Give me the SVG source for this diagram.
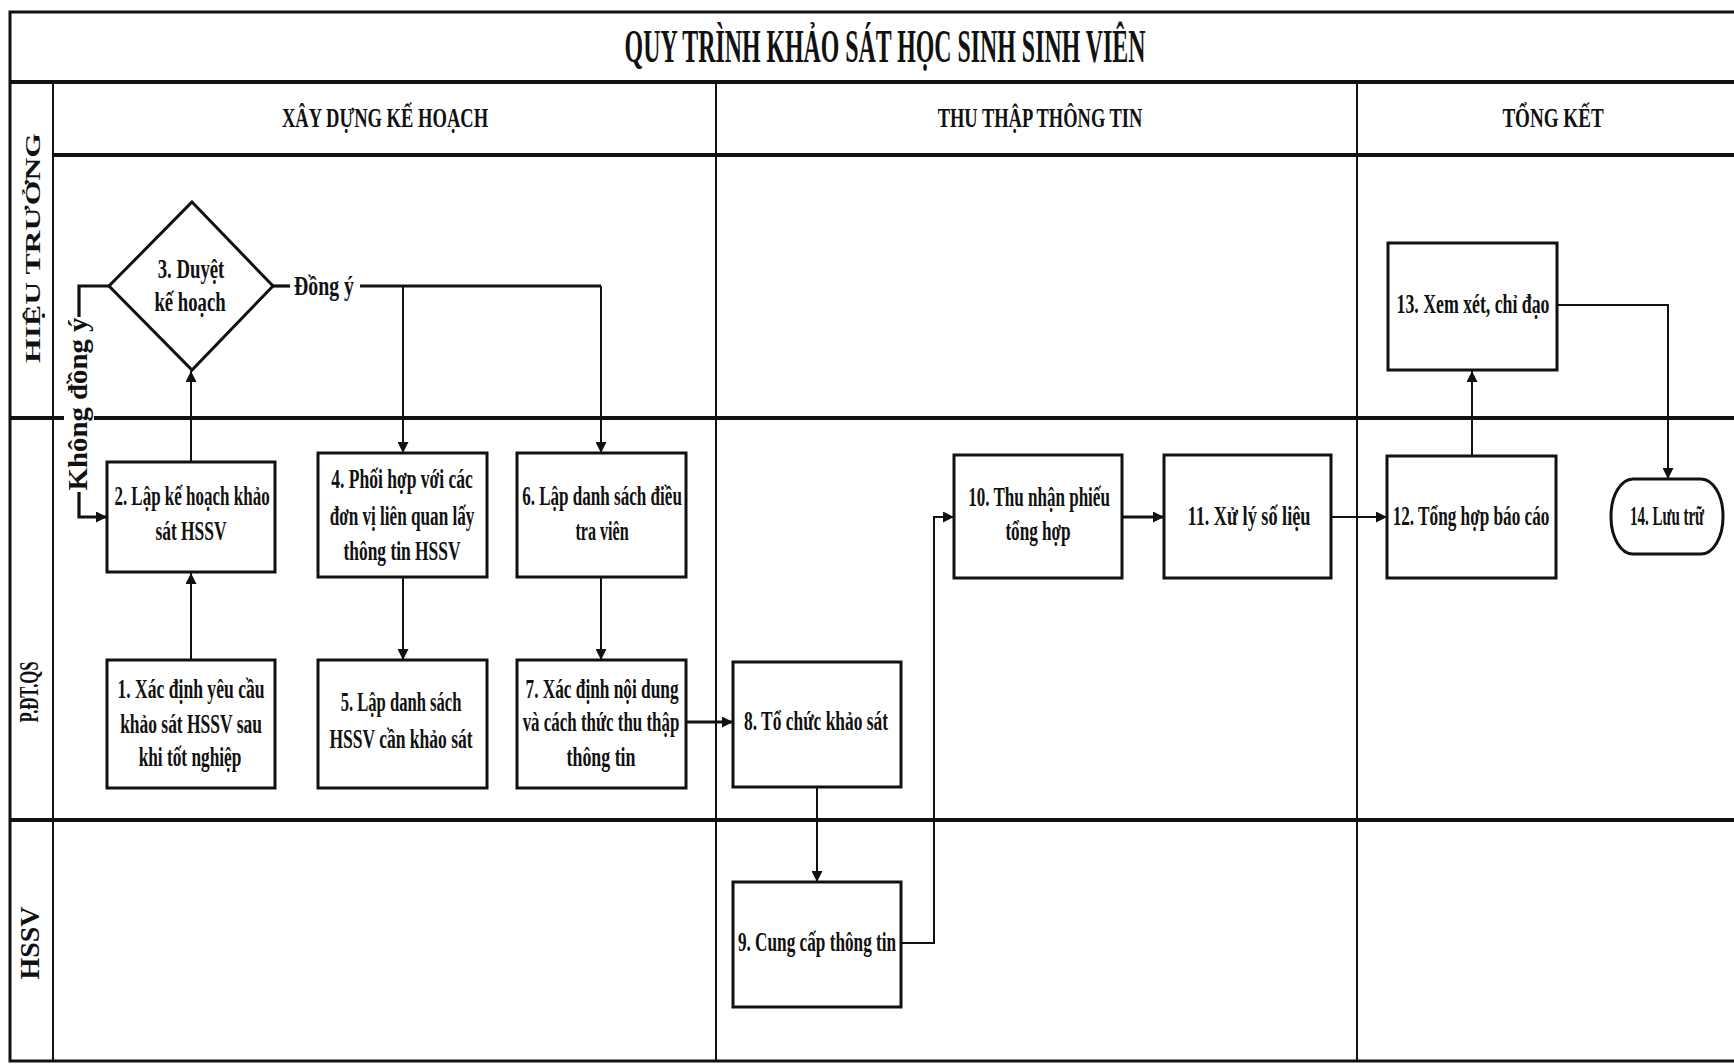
<svg xmlns="http://www.w3.org/2000/svg" width="1734" height="1064" viewBox="0 0 1734 1064">
<style>
.frame{fill:none;stroke:#111;stroke-width:3}
.thick{stroke:#111;stroke-width:4;fill:none}
.thin{stroke:#111;stroke-width:2;fill:none}
.box{fill:#fff;stroke:#111;stroke-width:3}
.conn{stroke:#111;stroke-width:2;fill:none}
.conn3{stroke:#111;stroke-width:3.2;fill:none}
.t{font-family:"Liberation Serif","Times New Roman",serif;font-weight:bold;font-size:27px;fill:#111;text-anchor:middle}
.title{font-size:46px}
.hdr{font-size:27px}
.lane{font-size:22px}
</style>
<defs>
<marker id="ah" viewBox="0 0 10 10" refX="10" refY="5" markerWidth="11" markerHeight="11" markerUnits="userSpaceOnUse" orient="auto">
<path d="M0,0 L10,5 L0,10 z" fill="#111"/>
</marker>
</defs>
<rect width="1734" height="1064" fill="#fff"/>
<g id="frame">
<path class="frame" d="M1734 12 H10 V1061 H1734"/>
<path class="thick" d="M10 82 H1734"/>
<path class="thick" d="M53 155 H1734"/>
<path class="thin" d="M53 82 V1061"/>
<path class="thin" d="M716 82 V1061"/>
<path class="thin" d="M1357 82 V1061"/>
<path class="thick" d="M10 418 H1734" stroke-width="3.5"/>
<path class="thick" d="M10 820 H1734"/>
<text class="t title" transform="translate(885,62) scale(0.6,1)" textLength="868" lengthAdjust="spacingAndGlyphs">QUY TRÌNH KHẢO SÁT HỌC SINH SINH VIÊN</text>
<text class="t hdr" transform="translate(385,127) scale(0.75,1)" textLength="275" lengthAdjust="spacingAndGlyphs">XÂY DỰNG KẾ HOẠCH</text>
<text class="t hdr" transform="translate(1040,127) scale(0.75,1)" textLength="273" lengthAdjust="spacingAndGlyphs">THU THẬP THÔNG TIN</text>
<text class="t hdr" transform="translate(1553,127) scale(0.75,1)" textLength="135" lengthAdjust="spacingAndGlyphs">TỔNG KẾT</text>
<text class="t lane" transform="translate(40,248) rotate(-90)" textLength="230" lengthAdjust="spacingAndGlyphs">HIỆU TRƯỞNG</text>
<text class="t" font-size="17" transform="translate(38,692) rotate(-90)" textLength="61" lengthAdjust="spacingAndGlyphs">P.ĐT.QS</text>
<text class="t" font-size="19" transform="translate(39,943) rotate(-90)" textLength="73" lengthAdjust="spacingAndGlyphs">HSSV</text>
</g>
<g id="connectors">
<path class="conn" d="M191 660 V573" marker-end="url(#ah)"/>
<path class="conn" d="M191 462 V371" marker-end="url(#ah)"/>
<path class="conn3" d="M273 286 H290"/>
<path class="conn3" d="M360 286 H601"/>
<path class="conn" d="M403 286 V453" marker-end="url(#ah)"/>
<path class="conn" d="M601 286 V453" marker-end="url(#ah)"/>
<path class="conn3" d="M109 286 H79 V517 H107" marker-end="url(#ah)"/>
<path class="conn" d="M403 577 V660" marker-end="url(#ah)"/>
<path class="conn" d="M601 577 V660" marker-end="url(#ah)"/>
<path class="conn3" d="M686 722 H733" marker-end="url(#ah)"/>
<path class="conn" d="M817 787 V882" marker-end="url(#ah)"/>
<path class="conn" d="M901 943 H934 V517 H954" marker-end="url(#ah)"/>
<path class="conn3" d="M1122 517 H1164" marker-end="url(#ah)"/>
<path class="conn" d="M1331 517 H1387" marker-end="url(#ah)"/>
<path class="conn" d="M1472 456 V371" marker-end="url(#ah)"/>
<path class="conn" d="M1557 305 H1668 V479" marker-end="url(#ah)"/>
<text class="t" transform="translate(324,295) scale(0.75,1)" textLength="80" lengthAdjust="spacingAndGlyphs">Đồng ý</text>
<rect x="64" y="317" width="30" height="175" fill="#fff"/>
<text class="t" font-weight="normal" transform="translate(87,404) rotate(-90) scale(0.8,1)" textLength="216" lengthAdjust="spacingAndGlyphs">Không đồng ý</text>
</g>
<g id="n1">
<rect class="box" x="107" y="660" width="168" height="128"/>
<text class="t" transform="translate(191,698) scale(0.75,1)" textLength="196" lengthAdjust="spacingAndGlyphs">1. Xác định yêu cầu</text>
<text class="t" transform="translate(191,733) scale(0.75,1)" textLength="189" lengthAdjust="spacingAndGlyphs">khảo sát HSSV sau</text>
<text class="t" transform="translate(190,766) scale(0.75,1)" textLength="137" lengthAdjust="spacingAndGlyphs">khi tốt nghiệp</text>
</g>
<g id="n2">
<rect class="box" x="107" y="462" width="168" height="110"/>
<text class="t" transform="translate(192,505) scale(0.75,1)" textLength="207" lengthAdjust="spacingAndGlyphs">2. Lập kế hoạch khảo</text>
<text class="t" transform="translate(191,540) scale(0.75,1)" textLength="95" lengthAdjust="spacingAndGlyphs">sát HSSV</text>
</g>
<g id="n3">
<path class="box" d="M192 202 L273 286 L192 370 L109 286 Z"/>
<text class="t" transform="translate(191,278) scale(0.75,1)" textLength="89" lengthAdjust="spacingAndGlyphs">3. Duyệt</text>
<text class="t" transform="translate(190,311) scale(0.75,1)" textLength="95" lengthAdjust="spacingAndGlyphs">kế hoạch</text>
</g>
<g id="n4">
<rect class="box" x="318" y="453" width="169" height="124"/>
<text class="t" transform="translate(402,488) scale(0.75,1)" textLength="189" lengthAdjust="spacingAndGlyphs">4. Phối hợp với các</text>
<text class="t" transform="translate(402,525) scale(0.75,1)" textLength="193" lengthAdjust="spacingAndGlyphs">đơn vị liên quan lấy</text>
<text class="t" transform="translate(402,560) scale(0.75,1)" textLength="156" lengthAdjust="spacingAndGlyphs">thông tin HSSV</text>
</g>
<g id="n5">
<rect class="box" x="318" y="660" width="169" height="128"/>
<text class="t" transform="translate(401,711) scale(0.75,1)" textLength="161" lengthAdjust="spacingAndGlyphs">5. Lập danh sách</text>
<text class="t" transform="translate(401,748) scale(0.75,1)" textLength="191" lengthAdjust="spacingAndGlyphs">HSSV  cần khảo sát</text>
</g>
<g id="n6">
<rect class="box" x="517" y="453" width="169" height="124"/>
<text class="t" transform="translate(602,505) scale(0.75,1)" textLength="213" lengthAdjust="spacingAndGlyphs">6. Lập danh sách điều</text>
<text class="t" transform="translate(602,540) scale(0.75,1)" textLength="71" lengthAdjust="spacingAndGlyphs">tra viên</text>
</g>
<g id="n7">
<rect class="box" x="517" y="660" width="169" height="128"/>
<text class="t" transform="translate(602,698) scale(0.75,1)" textLength="204" lengthAdjust="spacingAndGlyphs">7. Xác định nội dung</text>
<text class="t" transform="translate(601,731) scale(0.75,1)" textLength="209" lengthAdjust="spacingAndGlyphs">và cách thức thu thập</text>
<text class="t" transform="translate(601,766) scale(0.75,1)" textLength="92" lengthAdjust="spacingAndGlyphs">thông tin</text>
</g>
<g id="n8">
<rect class="box" x="733" y="662" width="168" height="125"/>
<text class="t" transform="translate(816,730) scale(0.75,1)" textLength="192" lengthAdjust="spacingAndGlyphs">8. Tổ chức khảo sát</text>
</g>
<g id="n9">
<rect class="box" x="733" y="882" width="168" height="125"/>
<text class="t" transform="translate(817,951) scale(0.75,1)" textLength="211" lengthAdjust="spacingAndGlyphs">9. Cung cấp thông tin</text>
</g>
<g id="n10">
<rect class="box" x="954" y="455" width="168" height="123"/>
<text class="t" transform="translate(1039,506) scale(0.75,1)" textLength="189" lengthAdjust="spacingAndGlyphs">10. Thu nhận phiếu</text>
<text class="t" transform="translate(1038,540) scale(0.75,1)" textLength="87" lengthAdjust="spacingAndGlyphs">tổng hợp</text>
</g>
<g id="n11">
<rect class="box" x="1164" y="455" width="167" height="123"/>
<text class="t" transform="translate(1249,525) scale(0.75,1)" textLength="164" lengthAdjust="spacingAndGlyphs">11. Xử lý số liệu</text>
</g>
<g id="n12">
<rect class="box" x="1387" y="456" width="169" height="122"/>
<text class="t" transform="translate(1471,525) scale(0.75,1)" textLength="209" lengthAdjust="spacingAndGlyphs">12. Tổng hợp báo cáo</text>
</g>
<g id="n13">
<rect class="box" x="1388" y="243" width="169" height="127"/>
<text class="t" transform="translate(1473,313) scale(0.75,1)" textLength="204" lengthAdjust="spacingAndGlyphs">13. Xem xét, chỉ đạo</text>
</g>
<g id="n14">
<rect class="box" x="1611" y="479" width="112" height="75" rx="22" ry="37"/>
<text class="t" transform="translate(1667,525) scale(0.75,1)" textLength="99" lengthAdjust="spacingAndGlyphs">14. Lưu trữ</text>
</g>
</svg>
